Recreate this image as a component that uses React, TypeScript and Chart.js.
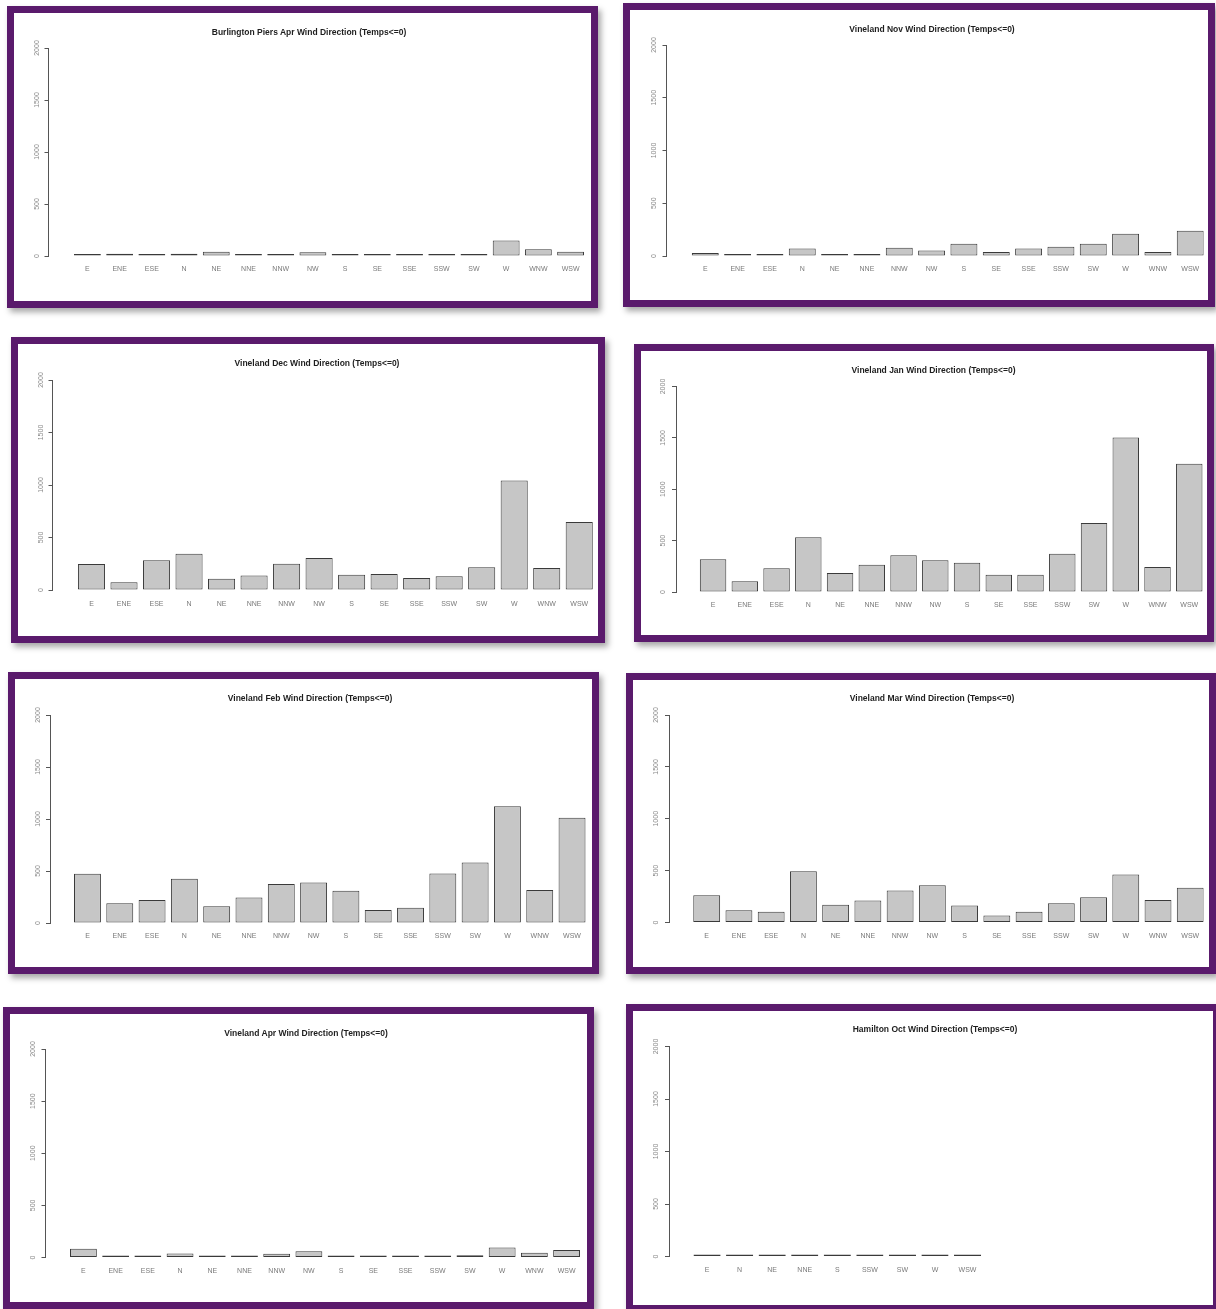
import React, { useEffect, useRef } from 'react';
import { Chart, registerables } from 'chart.js';

Chart.register(...registerables);

// ---------- DATA ----------
const directions16 = ['E', 'ENE', 'ESE', 'N', 'NE', 'NNE', 'NNW', 'NW', 'S', 'SE', 'SSE', 'SSW', 'SW', 'W', 'WNW', 'WSW'];
const hamiltonDirections = ['E', 'N', 'NE', 'NNE', 'S', 'SSW', 'SW', 'W', 'WSW'];

const burlingtonAprValues = [16, 22, 3, 22, 42, 6, 13, 35, 6, 3, 3, 3, 6, 148, 64, 42];
const vinelandNovValues = [28, 13, 16, 70, 13, 13, 79, 51, 117, 38, 70, 88, 117, 212, 38, 240];
const vinelandDecValues = [248, 73, 283, 346, 108, 137, 251, 305, 146, 152, 114, 130, 216, 1044, 210, 648];
const vinelandJanValues = [318, 104, 230, 532, 185, 266, 357, 308, 285, 169, 169, 373, 671, 1504, 243, 1248];
const vinelandFebValues = [474, 189, 221, 426, 160, 246, 374, 390, 310, 125, 147, 477, 582, 1123, 317, 1011];
const vinelandMarValues = [263, 119, 103, 494, 170, 212, 308, 360, 164, 67, 103, 186, 244, 462, 218, 334];
const vinelandAprValues = [83, 19, 13, 38, 6, 10, 35, 61, 19, 2, 19, 13, 22, 96, 45, 73];
const hamiltonOctValues = [2, 10, 3, 3, 10, 3, 10, 16, 10];

const yAxisMin = 0;
const yAxisMax = 2000;
const yAxisStep = 500;

// ---------- STYLE / LAYOUT ----------
const FRAME = '#5a1a6c';
const BORDER = 7;
const BAR_FILL = '#c6c6c6';
const BAR_EDGE = '#3a3a3a';
const FONT = '"Liberation Sans", Arial, Helvetica, sans-serif';
const BW = 0.8333; // bar width relative to pitch (R barplot space = 0.2)
const SLOTS = 16;
const Y_W = 30;
const X_H = 20;

type Layout = {
  fx: number; fy: number; fw: number; fh: number;
  axisX: number; y2000: number; y0: number; tickLabelX: number;
  firstBar: number; lastBarRight: number;
  titleX: number; titleY: number; labelsY: number;
};

const layouts: Layout[] = [
  { fx: 7, fy: 6, fw: 591, fh: 302, axisX: 48.5, y2000: 48, y0: 256, tickLabelX: 37, firstBar: 74, lastBarRight: 584, titleX: 309, titleY: 31.5, labelsY: 269 },
  { fx: 623, fy: 3, fw: 592, fh: 304, axisX: 666.5, y2000: 45, y0: 256, tickLabelX: 654, firstBar: 692, lastBarRight: 1208, titleX: 932, titleY: 28.5, labelsY: 269 },
  { fx: 11, fy: 337, fw: 594, fh: 306, axisX: 52.5, y2000: 380, y0: 590, tickLabelX: 41, firstBar: 78, lastBarRight: 594, titleX: 317, titleY: 362.5, labelsY: 604 },
  { fx: 634, fy: 344, fw: 580, fh: 298, axisX: 676, y2000: 386.5, y0: 592, tickLabelX: 663.5, firstBar: 700, lastBarRight: 1206, titleX: 933.5, titleY: 370, labelsY: 605 },
  { fx: 8, fy: 672, fw: 591, fh: 302, axisX: 50, y2000: 715, y0: 923, tickLabelX: 38, firstBar: 74, lastBarRight: 585.5, titleX: 310, titleY: 698, labelsY: 936.5 },
  { fx: 626, fy: 673, fw: 590, fh: 301, axisX: 669, y2000: 715, y0: 922.5, tickLabelX: 656.5, firstBar: 693.5, lastBarRight: 1209, titleX: 932, titleY: 698, labelsY: 936.5 },
  { fx: 3, fy: 1007, fw: 591, fh: 302, axisX: 45.5, y2000: 1049, y0: 1257.5, tickLabelX: 33, firstBar: 70, lastBarRight: 580, titleX: 306, titleY: 1032.5, labelsY: 1271 },
  { fx: 626, fy: 1004, fw: 594, fh: 308, axisX: 669, y2000: 1046.5, y0: 1256.5, tickLabelX: 656.5, firstBar: 693.5, lastBarRight: 1209, titleX: 935, titleY: 1029, labelsY: 1270.5 },
];

type PanelSpec = { title: string; labels: string[]; values: number[] };

const panels: PanelSpec[] = [
  { title: 'Burlington Piers Apr Wind Direction (Temps<=0)', labels: directions16, values: burlingtonAprValues },
  { title: 'Vineland Nov Wind Direction (Temps<=0)', labels: directions16, values: vinelandNovValues },
  { title: 'Vineland Dec Wind Direction (Temps<=0)', labels: directions16, values: vinelandDecValues },
  { title: 'Vineland Jan Wind Direction (Temps<=0)', labels: directions16, values: vinelandJanValues },
  { title: 'Vineland Feb Wind Direction (Temps<=0)', labels: directions16, values: vinelandFebValues },
  { title: 'Vineland Mar Wind Direction (Temps<=0)', labels: directions16, values: vinelandMarValues },
  { title: 'Vineland Apr Wind Direction (Temps<=0)', labels: directions16, values: vinelandAprValues },
  { title: 'Hamilton Oct Wind Direction (Temps<=0)', labels: hamiltonDirections, values: hamiltonOctValues },
];

function BarPanel({ spec, lay }: { spec: PanelSpec; lay: Layout }) {
  const ref = useRef<HTMLCanvasElement>(null);
  const cl = lay.fx + BORDER;
  const ct = lay.fy + BORDER;
  const cw = lay.fw - 2 * BORDER;
  const ch = lay.fh - 2 * BORDER;

  useEffect(() => {
    if (!ref.current) return;
    const pitch = (lay.lastBarRight - lay.firstBar) / (SLOTS - 1 + BW);
    const xMin = -BW / 2 - (lay.firstBar - lay.axisX) / pitch;
    const chartRight = Math.min(lay.lastBarRight + 3, cl + cw);
    const xMax = xMin + (chartRight - lay.axisX) / pitch;
    const yPad = Math.max(0, lay.axisX - lay.tickLabelX - 4 - 7.8);
    const xPad = Math.max(0, lay.labelsY - lay.y0 - 4.2);

    const chart = new Chart(ref.current, {
      type: 'bar',
      data: {
        datasets: [
          {
            data: spec.values.map((v, i) => ({ x: i, y: v })),
            backgroundColor: BAR_FILL,
            borderColor: BAR_EDGE,
            borderWidth: 1,
            borderSkipped: false,
            minBarLength: 2,
            barPercentage: BW,
            categoryPercentage: 1,
          },
        ],
      },
      options: {
        animation: false,
        responsive: false,
        maintainAspectRatio: false,
        layout: {
          padding: {
            left: lay.axisX - cl - Y_W,
            right: cl + cw - chartRight,
            top: lay.y2000 - ct,
            bottom: ct + ch - lay.y0 - X_H,
          },
        },
        plugins: {
          legend: { display: false },
          tooltip: { enabled: false },
          title: { display: false },
        },
        scales: {
          x: {
            type: 'linear',
            min: xMin,
            max: xMax,
            offset: false,
            grid: { display: false, drawTicks: false },
            border: { display: false },
            afterFit: (s: any) => { s.height = X_H; },
            ticks: {
              stepSize: 1,
              includeBounds: false,
              maxTicksLimit: 25,
              autoSkip: false,
              maxRotation: 0,
              minRotation: 0,
              padding: xPad,
              color: '#7a7a7a',
              font: { family: FONT, size: 7 },
              callback: (value: any) => {
                const v = Number(value);
                return Number.isInteger(v) && v >= 0 && v < spec.labels.length ? spec.labels[v] : '';
              },
            },
          },
          y: {
            type: 'linear',
            min: yAxisMin,
            max: yAxisMax,
            afterFit: (s: any) => { s.width = Y_W; },
            grid: { display: true, drawOnChartArea: false, drawTicks: true, tickLength: 4, color: '#555', lineWidth: 1 },
            border: { display: true, color: '#555', width: 1 },
            ticks: {
              stepSize: yAxisStep,
              minRotation: 90,
              maxRotation: 90,
              crossAlign: 'center',
              padding: yPad,
              color: '#8a8a8a',
              font: { family: FONT, size: 7 },
              callback: (value: any) => String(value),
            },
          },
        },
      } as any,
    });
    return () => chart.destroy();
  }, []);

  return (
    <div
      style={{
        position: 'absolute',
        left: lay.fx,
        top: lay.fy,
        width: lay.fw,
        height: lay.fh,
        boxSizing: 'border-box',
        border: `${BORDER}px solid ${FRAME}`,
        background: '#ffffff',
        boxShadow: '3px 4px 6px rgba(0,0,0,0.35)',
      }}
    >
      <canvas
        ref={ref}
        width={cw}
        height={ch}
        style={{ position: 'absolute', left: 0, top: 0, width: cw, height: ch }}
      />
      <div
        style={{
          position: 'absolute',
          left: lay.titleX - cl,
          top: lay.titleY - ct,
          transform: 'translate(-50%, -50%)',
          whiteSpace: 'nowrap',
          fontFamily: FONT,
          fontWeight: 'bold',
          fontSize: '8.5px',
          lineHeight: 1,
          color: '#1e1e1e',
        }}
      >
        {spec.title}
      </div>
    </div>
  );
}

export default function App() {
  return (
    <div style={{ position: 'absolute', left: 0, top: 0, width: 1216, height: 1309, background: '#ffffff', overflow: 'hidden' }}>
      {panels.map((p, i) => (
        <BarPanel key={i} spec={p} lay={layouts[i]} />
      ))}
    </div>
  );
}
